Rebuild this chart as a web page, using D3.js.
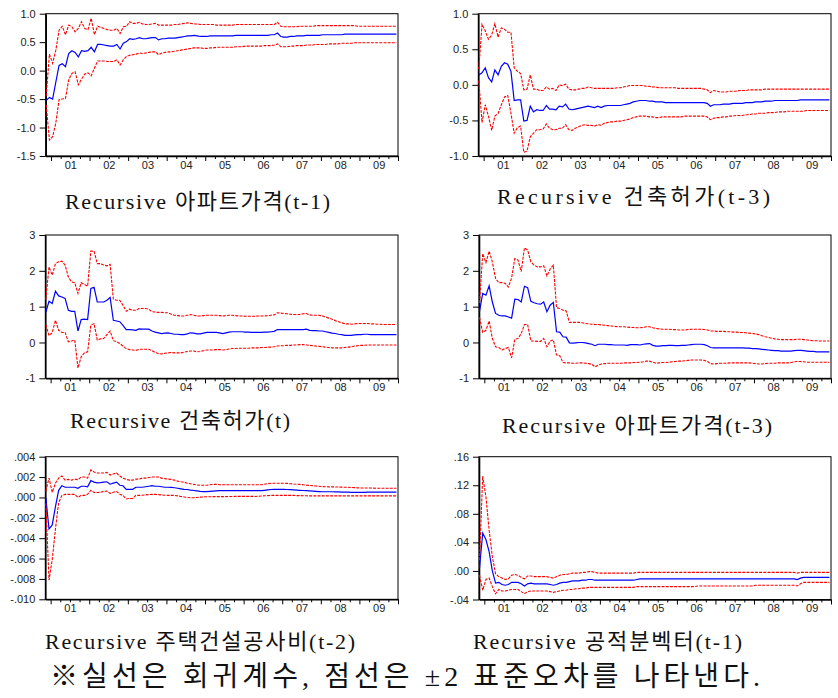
<!DOCTYPE html>
<html><head><meta charset="utf-8">
<script src="https://cdn.jsdelivr.net/npm/d3@7"></script>
<style>body{margin:0;background:#fff}</style>
</head><body>
<svg id="c" width="838" height="698"></svg>
<script>
// Monthly observations 2000M11 .. 2009M12 (110 points)
const startYear = 2000, startMonth = 11, nObs = 110;
const yearLabels = ["01","02","03","04","05","06","07","08","09"];
const titles = ["Recursive 아파트가격(t-1)","Recursive 건축허가(t-3)","Recursive 건축허가(t)","Recursive 아파트가격(t-3)","Recursive 주택건설공사비(t-2)","Recursive 공적분벡터(t-1)"];
const noteText = "※실선은 회귀계수, 점선은 ±2 표준오차를 나타낸다.";

const yTicks1 = [1.0,0.5,0.0,-0.5,-1.0,-1.5], yLabels1 = ["1.0","0.5","0.0","-0.5","-1.0","-1.5"];
const yTicks2 = [1.0,0.5,0.0,-0.5,-1.0], yLabels2 = ["1.0","0.5","0.0","-0.5","-1.0"];
const yTicks3 = [3,2,1,0,-1], yLabels3 = ["3","2","1","0","-1"];
const yTicks4 = [3,2,1,0,-1], yLabels4 = ["3","2","1","0","-1"];
const yTicks5 = [0.004,0.002,0,-0.002,-0.004,-0.006,-0.008,-0.010], yLabels5 = [".004",".002",".000","-.002","-.004","-.006","-.008","-.010"];
const yTicks6 = [0.16,0.12,0.08,0.04,0,-0.04], yLabels6 = [".16",".12",".08",".04",".00","-.04"];

// Panel 1: 아파트가격(t-1)
const coef1 = [-0.52,-0.47,
-0.50,-0.20,0.09,0.12,0.07,0.30,0.35,0.32,0.24,0.35,0.34,0.35,
0.41,0.33,0.46,0.46,0.45,0.44,0.43,0.43,0.46,0.38,0.48,0.51,
0.56,0.55,0.56,0.58,0.56,0.56,0.57,0.58,0.58,0.54,0.56,0.56,
0.57,0.57,0.57,0.58,0.59,0.60,0.61,0.61,0.62,0.61,0.60,0.60,
0.60,0.61,0.61,0.61,0.61,0.61,0.61,0.61,0.61,0.62,0.62,0.62,
0.62,0.62,0.62,0.62,0.62,0.62,0.62,0.62,0.63,0.63,0.66,0.60,
0.59,0.59,0.60,0.60,0.61,0.61,0.61,0.62,0.62,0.62,0.62,0.62,
0.63,0.63,0.63,0.63,0.63,0.63,0.63,0.64,0.64,0.64,0.64,0.64,
0.64,0.64,0.64,0.64,0.64,0.64,0.64,0.64,0.64,0.64,0.64,0.64];
const upper1 = [-0.45,0.29,
0.13,0.36,0.71,0.78,0.63,0.80,0.77,0.68,0.74,0.86,0.74,0.72,
0.92,0.63,0.78,0.76,0.74,0.72,0.71,0.71,0.74,0.65,0.77,0.78,
0.86,0.83,0.83,0.85,0.82,0.81,0.81,0.82,0.83,0.80,0.80,0.80,
0.80,0.80,0.81,0.81,0.82,0.83,0.84,0.83,0.82,0.82,0.81,0.81,
0.81,0.81,0.81,0.80,0.80,0.80,0.80,0.80,0.80,0.81,0.81,0.81,
0.81,0.81,0.81,0.81,0.81,0.81,0.81,0.81,0.81,0.81,0.85,0.78,
0.77,0.77,0.77,0.77,0.77,0.78,0.78,0.78,0.78,0.78,0.79,0.79,
0.79,0.79,0.79,0.79,0.79,0.79,0.79,0.79,0.79,0.79,0.79,0.78,
0.78,0.78,0.78,0.78,0.78,0.78,0.78,0.78,0.78,0.78,0.78,0.78];
const lower1 = [-0.60,-1.22,
-1.16,-0.92,-0.51,-0.50,-0.49,-0.16,-0.05,-0.02,-0.25,-0.15,-0.06,-0.04,
-0.09,0.04,0.17,0.17,0.17,0.16,0.16,0.16,0.19,0.10,0.19,0.25,
0.27,0.28,0.29,0.31,0.30,0.31,0.32,0.33,0.33,0.28,0.31,0.32,
0.33,0.33,0.34,0.35,0.36,0.37,0.38,0.39,0.40,0.40,0.40,0.39,
0.39,0.40,0.40,0.41,0.41,0.41,0.41,0.41,0.41,0.42,0.42,0.42,
0.43,0.43,0.43,0.43,0.43,0.43,0.44,0.44,0.44,0.45,0.47,0.42,
0.42,0.42,0.43,0.43,0.44,0.44,0.44,0.45,0.45,0.45,0.46,0.46,
0.46,0.46,0.47,0.47,0.47,0.47,0.48,0.48,0.48,0.48,0.49,0.49,
0.49,0.49,0.49,0.49,0.49,0.49,0.49,0.49,0.49,0.49,0.49,0.49];

// Panel 2: 건축허가(t-3)
const coef2 = [0.14,0.17,
0.24,0.10,0.04,0.21,0.14,0.26,0.31,0.29,0.19,-0.22,-0.21,-0.21,
-0.51,-0.50,-0.30,-0.38,-0.35,-0.36,-0.36,-0.29,-0.34,-0.34,-0.35,-0.30,
-0.31,-0.27,-0.34,-0.35,-0.34,-0.33,-0.32,-0.31,-0.30,-0.31,-0.32,-0.30,
-0.32,-0.30,-0.29,-0.29,-0.29,-0.29,-0.29,-0.28,-0.27,-0.26,-0.24,-0.23,
-0.22,-0.22,-0.22,-0.23,-0.23,-0.24,-0.24,-0.24,-0.25,-0.25,-0.25,-0.25,
-0.25,-0.25,-0.25,-0.25,-0.25,-0.25,-0.25,-0.25,-0.25,-0.26,-0.30,-0.28,
-0.28,-0.28,-0.27,-0.27,-0.27,-0.26,-0.26,-0.26,-0.26,-0.25,-0.25,-0.25,
-0.24,-0.24,-0.24,-0.23,-0.23,-0.23,-0.22,-0.22,-0.22,-0.22,-0.22,-0.22,
-0.22,-0.22,-0.21,-0.21,-0.21,-0.21,-0.21,-0.21,-0.21,-0.21,-0.21,-0.21];
const upper2 = [0.22,0.85,
0.76,0.64,0.70,0.86,0.67,0.80,0.78,0.74,0.74,0.24,0.19,0.16,
-0.07,-0.06,0.14,-0.06,-0.06,-0.08,-0.08,-0.03,-0.06,-0.05,-0.08,0.00,
-0.01,0.01,-0.06,-0.07,-0.07,-0.06,-0.05,-0.05,-0.03,-0.04,-0.05,-0.05,
-0.05,-0.05,-0.05,-0.05,-0.05,-0.04,-0.04,-0.03,-0.02,-0.01,-0.01,-0.01,
-0.01,-0.01,-0.02,-0.02,-0.03,-0.03,-0.04,-0.04,-0.04,-0.04,-0.04,-0.04,
-0.05,-0.05,-0.05,-0.05,-0.05,-0.05,-0.05,-0.05,-0.06,-0.07,-0.11,-0.08,
-0.09,-0.10,-0.10,-0.10,-0.09,-0.09,-0.09,-0.08,-0.08,-0.08,-0.07,-0.07,
-0.07,-0.07,-0.07,-0.06,-0.06,-0.06,-0.06,-0.06,-0.06,-0.06,-0.06,-0.06,
-0.06,-0.06,-0.06,-0.06,-0.06,-0.06,-0.06,-0.06,-0.06,-0.06,-0.06,-0.06];
const lower2 = [0.06,-0.53,
-0.28,-0.44,-0.64,-0.44,-0.40,-0.28,-0.17,-0.15,-0.40,-0.68,-0.60,-0.58,
-0.95,-0.93,-0.73,-0.68,-0.63,-0.63,-0.62,-0.55,-0.61,-0.63,-0.63,-0.61,
-0.61,-0.56,-0.63,-0.64,-0.61,-0.59,-0.57,-0.56,-0.57,-0.57,-0.58,-0.56,
-0.57,-0.54,-0.53,-0.52,-0.52,-0.51,-0.51,-0.50,-0.49,-0.48,-0.46,-0.45,
-0.44,-0.44,-0.44,-0.45,-0.45,-0.46,-0.46,-0.45,-0.45,-0.45,-0.45,-0.45,
-0.45,-0.45,-0.44,-0.44,-0.44,-0.44,-0.44,-0.44,-0.44,-0.45,-0.49,-0.47,
-0.46,-0.46,-0.45,-0.45,-0.44,-0.44,-0.43,-0.43,-0.43,-0.42,-0.42,-0.41,
-0.41,-0.40,-0.40,-0.40,-0.39,-0.39,-0.39,-0.38,-0.38,-0.38,-0.37,-0.37,
-0.37,-0.37,-0.37,-0.37,-0.36,-0.36,-0.36,-0.36,-0.36,-0.36,-0.36,-0.36];

// Panel 3: 건축허가(t)
const coef3 = [0.84,1.15,
1.09,1.43,1.30,1.27,1.23,0.90,0.87,0.87,0.32,0.64,0.65,0.64,
1.51,1.54,1.13,1.13,1.13,1.18,1.26,0.62,0.60,0.58,0.48,0.36,
0.36,0.35,0.34,0.38,0.37,0.37,0.37,0.32,0.29,0.27,0.25,0.26,
0.27,0.25,0.23,0.23,0.22,0.22,0.24,0.27,0.26,0.24,0.24,0.26,
0.28,0.28,0.28,0.28,0.27,0.25,0.27,0.29,0.30,0.30,0.30,0.30,
0.29,0.29,0.28,0.28,0.28,0.28,0.29,0.29,0.30,0.31,0.36,0.36,
0.36,0.36,0.36,0.36,0.36,0.36,0.36,0.37,0.34,0.33,0.33,0.32,
0.32,0.30,0.28,0.26,0.25,0.23,0.22,0.20,0.20,0.20,0.21,0.22,
0.22,0.23,0.23,0.22,0.22,0.22,0.22,0.22,0.22,0.22,0.22,0.22];
const upper3 = [1.20,2.11,
1.88,2.20,2.25,2.27,2.16,1.83,1.69,1.67,1.37,1.67,1.62,1.57,
2.55,2.55,2.20,2.20,2.16,2.14,2.18,1.21,1.18,1.18,1.04,0.87,
0.93,0.90,0.90,0.95,0.95,0.95,0.93,0.86,0.85,0.84,0.84,0.83,
0.83,0.79,0.76,0.75,0.74,0.74,0.76,0.78,0.76,0.74,0.74,0.75,
0.76,0.76,0.76,0.76,0.75,0.74,0.75,0.76,0.76,0.75,0.74,0.74,
0.73,0.73,0.73,0.73,0.74,0.74,0.74,0.75,0.76,0.77,0.83,0.82,
0.81,0.80,0.79,0.78,0.78,0.78,0.80,0.81,0.77,0.76,0.76,0.76,
0.74,0.71,0.68,0.65,0.61,0.58,0.55,0.52,0.52,0.51,0.52,0.53,
0.53,0.53,0.53,0.52,0.52,0.51,0.51,0.50,0.50,0.50,0.50,0.50];
const lower3 = [0.50,0.19,
0.28,0.62,0.34,0.28,0.28,0.02,0.04,0.07,-0.71,-0.40,-0.29,-0.26,
0.48,0.53,0.07,0.10,0.11,0.22,0.32,0.05,0.02,-0.03,-0.10,-0.17,
-0.20,-0.21,-0.22,-0.19,-0.19,-0.19,-0.19,-0.23,-0.28,-0.31,-0.32,-0.30,
-0.29,-0.28,-0.29,-0.29,-0.29,-0.27,-0.25,-0.24,-0.24,-0.26,-0.25,-0.23,
-0.21,-0.21,-0.21,-0.20,-0.20,-0.21,-0.20,-0.18,-0.17,-0.17,-0.16,-0.16,
-0.16,-0.16,-0.15,-0.15,-0.15,-0.14,-0.14,-0.13,-0.13,-0.12,-0.10,-0.09,
-0.09,-0.08,-0.08,-0.07,-0.07,-0.06,-0.06,-0.07,-0.08,-0.09,-0.10,-0.11,
-0.12,-0.13,-0.14,-0.15,-0.15,-0.15,-0.15,-0.14,-0.13,-0.12,-0.10,-0.09,
-0.08,-0.08,-0.07,-0.07,-0.07,-0.07,-0.07,-0.07,-0.07,-0.07,-0.07,-0.07];

// Panel 4: 아파트가격(t-3)
const coef4 = [0.87,1.37,
1.32,1.58,1.13,0.81,0.76,0.74,0.74,0.71,0.68,1.21,1.20,1.13,
1.57,1.53,1.15,1.11,1.08,1.07,1.13,0.86,1.04,1.12,0.30,0.29,
0.16,0.15,-0.01,-0.02,-0.01,0.00,0.00,-0.01,-0.03,-0.05,-0.09,-0.05,
-0.05,-0.05,-0.06,-0.06,-0.07,-0.07,-0.07,-0.07,-0.08,-0.06,-0.06,-0.06,
-0.07,-0.05,-0.04,-0.03,-0.08,-0.10,-0.10,-0.09,-0.09,-0.08,-0.08,-0.09,
-0.09,-0.08,-0.08,-0.07,-0.06,-0.05,-0.05,-0.05,-0.06,-0.09,-0.14,-0.15,
-0.15,-0.15,-0.15,-0.15,-0.15,-0.15,-0.15,-0.15,-0.15,-0.16,-0.16,-0.17,
-0.17,-0.18,-0.19,-0.20,-0.21,-0.22,-0.23,-0.23,-0.24,-0.24,-0.24,-0.24,
-0.23,-0.22,-0.22,-0.23,-0.24,-0.25,-0.25,-0.26,-0.26,-0.26,-0.26,-0.26];
const upper4 = [1.10,2.48,
2.23,2.55,2.25,1.79,1.67,1.67,1.65,1.55,1.80,2.34,2.30,1.98,
2.64,2.58,2.25,2.16,2.11,2.11,2.14,1.86,2.05,2.16,0.97,0.95,
0.90,0.88,0.56,0.56,0.56,0.56,0.55,0.53,0.52,0.51,0.50,0.50,
0.49,0.48,0.47,0.46,0.45,0.44,0.44,0.44,0.43,0.42,0.42,0.41,
0.41,0.42,0.44,0.44,0.41,0.39,0.38,0.37,0.37,0.37,0.36,0.36,
0.35,0.35,0.35,0.36,0.37,0.37,0.37,0.37,0.36,0.35,0.32,0.32,
0.31,0.31,0.31,0.30,0.30,0.29,0.29,0.28,0.28,0.27,0.26,0.25,
0.24,0.22,0.19,0.16,0.14,0.12,0.10,0.09,0.08,0.08,0.08,0.08,
0.08,0.09,0.09,0.08,0.07,0.06,0.05,0.05,0.04,0.04,0.04,0.04];
const lower4 = [0.70,0.28,
0.34,0.60,0.11,-0.12,-0.14,-0.21,-0.17,-0.14,-0.43,0.09,0.11,0.25,
0.50,0.50,0.04,0.04,0.03,0.03,0.11,-0.12,0.04,0.07,-0.35,-0.37,
-0.56,-0.57,-0.57,-0.58,-0.58,-0.57,-0.57,-0.58,-0.59,-0.61,-0.68,-0.63,
-0.60,-0.59,-0.58,-0.58,-0.58,-0.58,-0.58,-0.57,-0.57,-0.57,-0.56,-0.56,
-0.55,-0.54,-0.52,-0.52,-0.55,-0.58,-0.57,-0.56,-0.56,-0.55,-0.54,-0.53,
-0.52,-0.52,-0.51,-0.50,-0.49,-0.49,-0.49,-0.49,-0.50,-0.53,-0.59,-0.60,
-0.59,-0.58,-0.58,-0.58,-0.57,-0.57,-0.57,-0.57,-0.57,-0.57,-0.57,-0.58,
-0.59,-0.60,-0.60,-0.59,-0.58,-0.58,-0.58,-0.57,-0.57,-0.57,-0.57,-0.56,
-0.54,-0.53,-0.53,-0.54,-0.55,-0.55,-0.55,-0.55,-0.55,-0.55,-0.55,-0.55];

// Panel 5: 주택건설공사비(t-2)
const coef5 = [0.0000,-0.0031,
-0.0027,-0.0009,0.0007,0.00115,0.0010,0.0010,0.0010,0.0010,0.0009,0.0011,0.0011,0.00105,
0.00165,0.0015,0.00144,0.00145,0.0015,0.00154,0.0013,0.0014,0.0015,0.0012,0.00115,0.0008,
0.0008,0.0008,0.0010,0.0010,0.0010,0.00105,0.0011,0.00115,0.0011,0.0011,0.00105,0.0010,
0.0010,0.00098,0.00095,0.0009,0.00085,0.0008,0.00078,0.00072,0.00068,0.00064,0.0006,0.00058,
0.00058,0.0006,0.00062,0.00064,0.00066,0.00066,0.00066,0.00066,0.00066,0.00066,0.00066,0.00066,
0.00066,0.00066,0.00066,0.00066,0.00066,0.00066,0.0007,0.00074,0.00078,0.0008,0.0008,0.0008,
0.0008,0.00078,0.00076,0.00074,0.00072,0.0007,0.00068,0.00066,0.00064,0.00062,0.0006,0.00058,
0.00056,0.00056,0.00056,0.00056,0.00055,0.00054,0.00053,0.00052,0.00052,0.0005,0.0005,0.0005,
0.0005,0.0005,0.00052,0.00052,0.00052,0.00052,0.00052,0.00052,0.00052,0.00052,0.00052,0.00052];
const upper5 = [0.0006,0.0019,
0.0005,0.0014,0.0019,0.0021,0.0017,0.00177,0.0017,0.0018,0.00175,0.0020,0.0020,0.0019,
0.0027,0.0025,0.0024,0.0024,0.0024,0.00246,0.0022,0.0023,0.0024,0.0021,0.0019,0.00177,
0.0017,0.0017,0.0018,0.0018,0.0019,0.0019,0.00195,0.0020,0.0020,0.0020,0.0019,0.00185,
0.0018,0.00177,0.0017,0.0016,0.00154,0.0015,0.0014,0.00134,0.00128,0.00122,0.0012,0.0012,
0.0012,0.00125,0.00128,0.00128,0.00125,0.00125,0.00125,0.00125,0.00125,0.00125,0.00125,0.00125,
0.00125,0.00125,0.00125,0.00125,0.00125,0.00125,0.0013,0.00135,0.0014,0.0014,0.0014,0.0014,
0.0014,0.00138,0.00135,0.00132,0.0013,0.00128,0.00125,0.0012,0.00118,0.00115,0.00112,0.0011,
0.00106,0.00105,0.00104,0.00104,0.00103,0.00102,0.00101,0.0010,0.0010,0.00098,0.00096,0.00094,
0.00092,0.00092,0.00092,0.00092,0.00091,0.0009,0.0009,0.0009,0.0009,0.0009,0.0009,0.0009];
const lower5 = [-0.0006,-0.0081,
-0.0061,-0.0031,-0.0005,0.0002,0.0003,0.0003,0.0003,0.0003,0.0000,0.0002,0.0002,0.0003,
0.0007,0.0005,0.00048,0.0005,0.0006,0.00062,0.0004,0.0005,0.0006,0.0003,0.0002,-0.00015,
-0.0001,-0.0001,0.0002,0.0002,0.00022,0.00025,0.00028,0.0003,0.0003,0.00028,0.00025,0.00022,
0.0002,0.0002,0.0002,0.00015,0.0001,0.00005,0.0000,-0.00003,-0.00003,0.0000,0.00003,0.00005,
0.00007,0.00007,0.00008,0.00008,0.00008,0.00008,0.00008,0.00009,0.00009,0.0001,0.0001,0.0001,
0.0001,0.0001,0.0001,0.0001,0.00012,0.00014,0.00016,0.00018,0.0002,0.0002,0.0002,0.0002,
0.0002,0.0002,0.0002,0.0002,0.00018,0.00018,0.00017,0.00016,0.00015,0.00015,0.00015,0.00015,
0.00015,0.00015,0.00015,0.00015,0.00015,0.00015,0.00015,0.00015,0.00015,0.00015,0.00015,0.00015,
0.00015,0.00015,0.00015,0.00015,0.00015,0.00015,0.00015,0.00015,0.00015,0.00015,0.00015,0.00015];

// Panel 6: 공적분벡터(t-1)
const coef6 = [0.004,0.053,
0.044,0.027,0.000,-0.017,-0.016,-0.019,-0.020,-0.019,-0.016,-0.016,-0.016,-0.018,
-0.021,-0.018,-0.017,-0.018,-0.018,-0.018,-0.018,-0.018,-0.019,-0.020,-0.019,-0.017,
-0.016,-0.016,-0.015,-0.014,-0.014,-0.014,-0.013,-0.013,-0.012,-0.012,-0.013,-0.013,
-0.013,-0.013,-0.013,-0.013,-0.013,-0.013,-0.013,-0.013,-0.013,-0.013,-0.013,-0.012,
-0.011,-0.011,-0.011,-0.011,-0.011,-0.011,-0.011,-0.011,-0.011,-0.011,-0.011,-0.011,
-0.011,-0.011,-0.011,-0.011,-0.011,-0.011,-0.011,-0.011,-0.011,-0.011,-0.011,-0.011,
-0.011,-0.011,-0.011,-0.011,-0.011,-0.011,-0.011,-0.011,-0.011,-0.011,-0.011,-0.011,
-0.011,-0.011,-0.011,-0.011,-0.011,-0.011,-0.011,-0.011,-0.011,-0.011,-0.011,-0.011,
-0.011,-0.012,-0.010,-0.009,-0.009,-0.009,-0.009,-0.009,-0.009,-0.009,-0.009,-0.009];
const upper6 = [0.015,0.133,
0.104,0.057,0.020,-0.004,-0.008,-0.010,-0.012,-0.011,-0.006,-0.005,-0.006,-0.009,
-0.011,-0.007,-0.007,-0.008,-0.008,-0.008,-0.008,-0.008,-0.009,-0.010,-0.008,-0.006,
-0.005,-0.005,-0.004,-0.003,-0.003,-0.003,-0.002,-0.002,-0.001,-0.001,-0.002,-0.003,
-0.003,-0.003,-0.003,-0.003,-0.003,-0.003,-0.003,-0.003,-0.003,-0.003,-0.003,-0.002,
-0.002,-0.002,-0.002,-0.002,-0.002,-0.002,-0.002,-0.002,-0.002,-0.002,-0.002,-0.002,
-0.002,-0.002,-0.002,-0.002,-0.002,-0.002,-0.002,-0.002,-0.002,-0.002,-0.002,-0.002,
-0.002,-0.002,-0.002,-0.002,-0.002,-0.002,-0.002,-0.002,-0.002,-0.002,-0.002,-0.002,
-0.002,-0.002,-0.002,-0.002,-0.002,-0.002,-0.002,-0.002,-0.002,-0.002,-0.002,-0.002,
-0.002,-0.003,-0.002,-0.002,-0.002,-0.002,-0.002,-0.002,-0.002,-0.002,-0.002,-0.002];
const lower6 = [-0.006,-0.027,
-0.012,-0.010,-0.022,-0.032,-0.026,-0.028,-0.028,-0.027,-0.026,-0.026,-0.026,-0.029,
-0.032,-0.029,-0.028,-0.028,-0.028,-0.028,-0.028,-0.028,-0.029,-0.030,-0.029,-0.028,
-0.027,-0.027,-0.026,-0.026,-0.025,-0.025,-0.024,-0.024,-0.023,-0.023,-0.023,-0.023,
-0.023,-0.023,-0.023,-0.023,-0.023,-0.023,-0.023,-0.023,-0.023,-0.023,-0.023,-0.022,
-0.022,-0.022,-0.022,-0.022,-0.022,-0.022,-0.022,-0.022,-0.022,-0.022,-0.022,-0.022,
-0.022,-0.022,-0.022,-0.022,-0.022,-0.022,-0.021,-0.021,-0.021,-0.021,-0.021,-0.021,
-0.021,-0.021,-0.021,-0.021,-0.021,-0.021,-0.021,-0.021,-0.021,-0.021,-0.021,-0.021,
-0.020,-0.020,-0.020,-0.020,-0.020,-0.020,-0.020,-0.020,-0.020,-0.020,-0.020,-0.020,
-0.020,-0.021,-0.018,-0.016,-0.016,-0.016,-0.016,-0.016,-0.016,-0.016,-0.016,-0.016];

// ---------- layout ----------
const panels = [
  {coef:coef1, upper:upper1, lower:lower1, ticks:yTicks1, labels:yLabels1, box:{l:45.7,t:13.7,r:398,b:156}, tt:{x:65,y:201,len:265}},
  {coef:coef2, upper:upper2, lower:lower2, ticks:yTicks2, labels:yLabels2, box:{l:478.3,t:13.7,r:831,b:156}, tt:{x:497,y:196,len:273}},
  {coef:coef3, upper:upper3, lower:lower3, ticks:yTicks3, labels:yLabels3, box:{l:45.3,t:235,r:398,b:378.3}, tt:{x:70,y:420,len:220}},
  {coef:coef4, upper:upper4, lower:lower4, ticks:yTicks4, labels:yLabels4, box:{l:479,t:235,r:831,b:378.3}, tt:{x:502,y:425,len:270}},
  {coef:coef5, upper:upper5, lower:lower5, ticks:yTicks5, labels:yLabels5, box:{l:45.3,t:456.7,r:398,b:599.3}, tt:{x:45,y:641,len:310}},
  {coef:coef6, upper:upper6, lower:lower6, ticks:yTicks6, labels:yLabels6, box:{l:479,t:456.7,r:831,b:599.5}, tt:{x:473,y:641,len:269}}
];

const svg = d3.select("#c");
const tObs = d3.range(nObs).map(i => startYear + (startMonth - 1 + i + 0.5) / 12);
const years = d3.range(2001, 2011);
const quarters = [];
for (let yr = 2001; yr < 2010; yr++) { quarters.push(yr + 0.25, yr + 0.5, yr + 0.75); }
const mids = d3.range(2001, 2010).map(y => y + 0.5);
const titleFont = "'Liberation Serif', 'Noto Sans CJK KR', serif";

panels.forEach((p, k) => {
  const b = p.box;
  const x = d3.scaleLinear().domain([2000.862, 2010]).range([b.l, b.r]);
  const y = d3.scaleLinear().domain([d3.min(p.ticks), d3.max(p.ticks)]).range([b.b, b.t]);
  const g = svg.append("g");

  g.append("rect").attr("x", b.l).attr("y", b.t).attr("width", b.r - b.l).attr("height", b.b - b.t)
    .attr("fill", "none").attr("stroke", "#000").attr("stroke-width", 1);

  const ya = g.append("g").attr("transform", `translate(${b.l},0)`)
    .call(d3.axisLeft(y).tickValues(p.ticks).tickFormat((d, i) => p.labels[i]).tickSize(6).tickSizeOuter(0).tickPadding(4));
  ya.select(".domain").attr("stroke-width", 1.6);
  ya.selectAll("text").attr("font-family", "'Liberation Sans', Arial, sans-serif").attr("font-size", 11).attr("fill", "#222");

  const xa = g.append("g").attr("transform", `translate(0,${b.b})`)
    .call(d3.axisBottom(x).tickValues(years).tickSize(5).tickSizeOuter(0).tickFormat(""));
  xa.select(".domain").attr("stroke-width", 1.6);
  const xm = g.append("g").attr("transform", `translate(0,${b.b})`)
    .call(d3.axisBottom(x).tickValues(quarters).tickSize(3).tickSizeOuter(0).tickFormat(""));
  xm.select(".domain").remove();
  const xl = g.append("g").attr("transform", `translate(0,${b.b})`)
    .call(d3.axisBottom(x).tickValues(mids).tickSize(0).tickPadding(5).tickFormat((d, i) => yearLabels[i]));
  xl.select(".domain").remove();
  xl.selectAll("text").attr("font-family", "'Liberation Sans', Arial, sans-serif").attr("font-size", 11).attr("fill", "#222");

  const line = d3.line().x((d, i) => x(tObs[i])).y(d => y(d));
  g.append("path").datum(p.coef).attr("d", line).attr("fill", "none")
    .attr("stroke", "#0000ff").attr("stroke-width", 1.2);
  [p.upper, p.lower].forEach(s => {
    g.append("path").datum(s).attr("d", line).attr("fill", "none")
      .attr("stroke", "#ff0000").attr("stroke-width", 1.1).attr("stroke-dasharray", "3,1.2");
  });

  svg.append("text").attr("x", p.tt.x).attr("y", p.tt.y).attr("dominant-baseline", "central")
    .attr("font-family", titleFont).attr("font-size", 22)
    .attr("textLength", p.tt.len).attr("lengthAdjust", "spacing").attr("fill", "#111")
    .text(titles[k]);
});

svg.append("text").attr("x", 50).attr("y", 676).attr("dominant-baseline", "central")
  .attr("font-family", titleFont).attr("font-size", 28)
  .attr("textLength", 710).attr("lengthAdjust", "spacing").attr("fill", "#111")
  .text(noteText);
</script>
</body></html>
